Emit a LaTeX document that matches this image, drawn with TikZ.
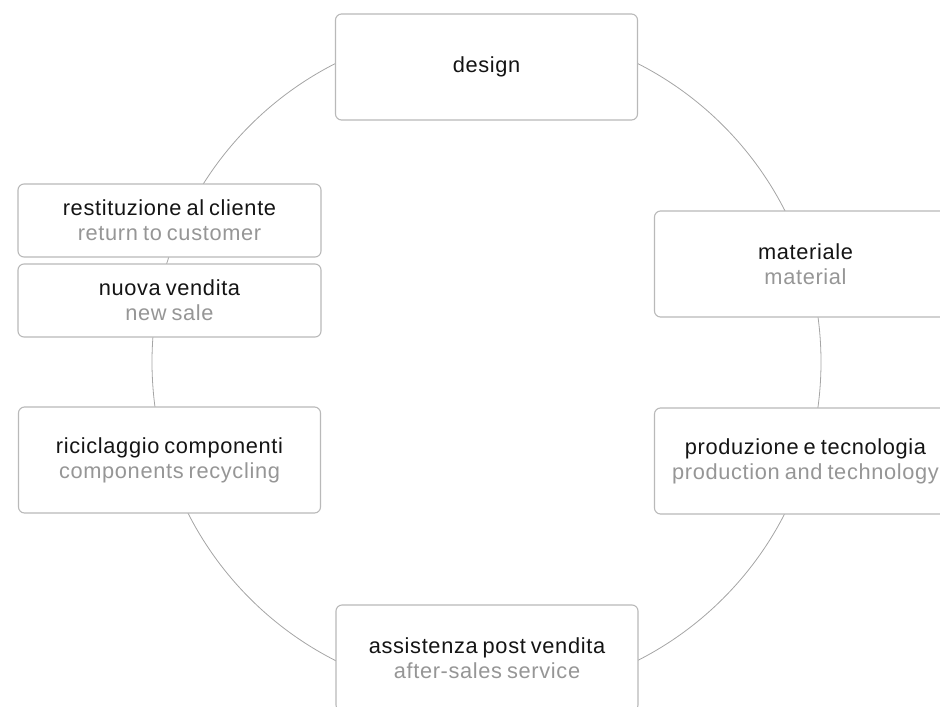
\documentclass[tikz,border=0pt]{standalone}
\usepackage{fontspec}
\setmainfont{Liberation Sans}[LetterSpace=3,WordSpace=0.75]
\definecolor{boxgray}{RGB}{185,185,185}
\definecolor{ringgray}{RGB}{165,165,165}
\definecolor{ink}{RGB}{20,20,20}
\definecolor{subgray}{RGB}{150,150,150}
\newcommand{\subtxt}[1]{{\color{subgray}#1}}
\begin{document}
\begin{tikzpicture}[x=1pt,y=-1pt,
  box/.style={draw=boxgray,line width=1.1pt,fill=white,rounded corners=6pt,inner sep=0pt,
    align=center,text=ink,font=\fontsize{21.8}{25}\selectfont},
  tallbox/.style={box,minimum width=302pt,minimum height=106pt},
  shortbox/.style={box,minimum width=303pt,minimum height=73pt},
  ring/.style={draw=ringgray,line width=0.8pt}]
\useasboundingbox (0,0) rectangle (940,707);
\clip (0,0) rectangle (940,707);
\coordinate (c) at (486.5,362);
\draw[ring] (c) circle[radius=334.5];
\node[tallbox] (design) at (486.5,67) {design};
\node[tallbox] (mat) at (805.5,264) {materiale\\\subtxt{material}};
\node[tallbox] (prod) at (805.5,461) {produzione e tecnologia\\\subtxt{production and technology}};
\node[tallbox] (assist) at (487,658) {assistenza post vendita\\\subtxt{after-sales service}};
\node[tallbox] (ricic) at (169.5,460) {riciclaggio componenti\\\subtxt{components recycling}};
\node[shortbox] (nuova) at (169.5,300.5) {nuova vendita\\\subtxt{new sale}};
\node[shortbox] (rest) at (169.5,220.5) {restituzione al cliente\\\subtxt{return to customer}};
\end{tikzpicture}
\end{document}
